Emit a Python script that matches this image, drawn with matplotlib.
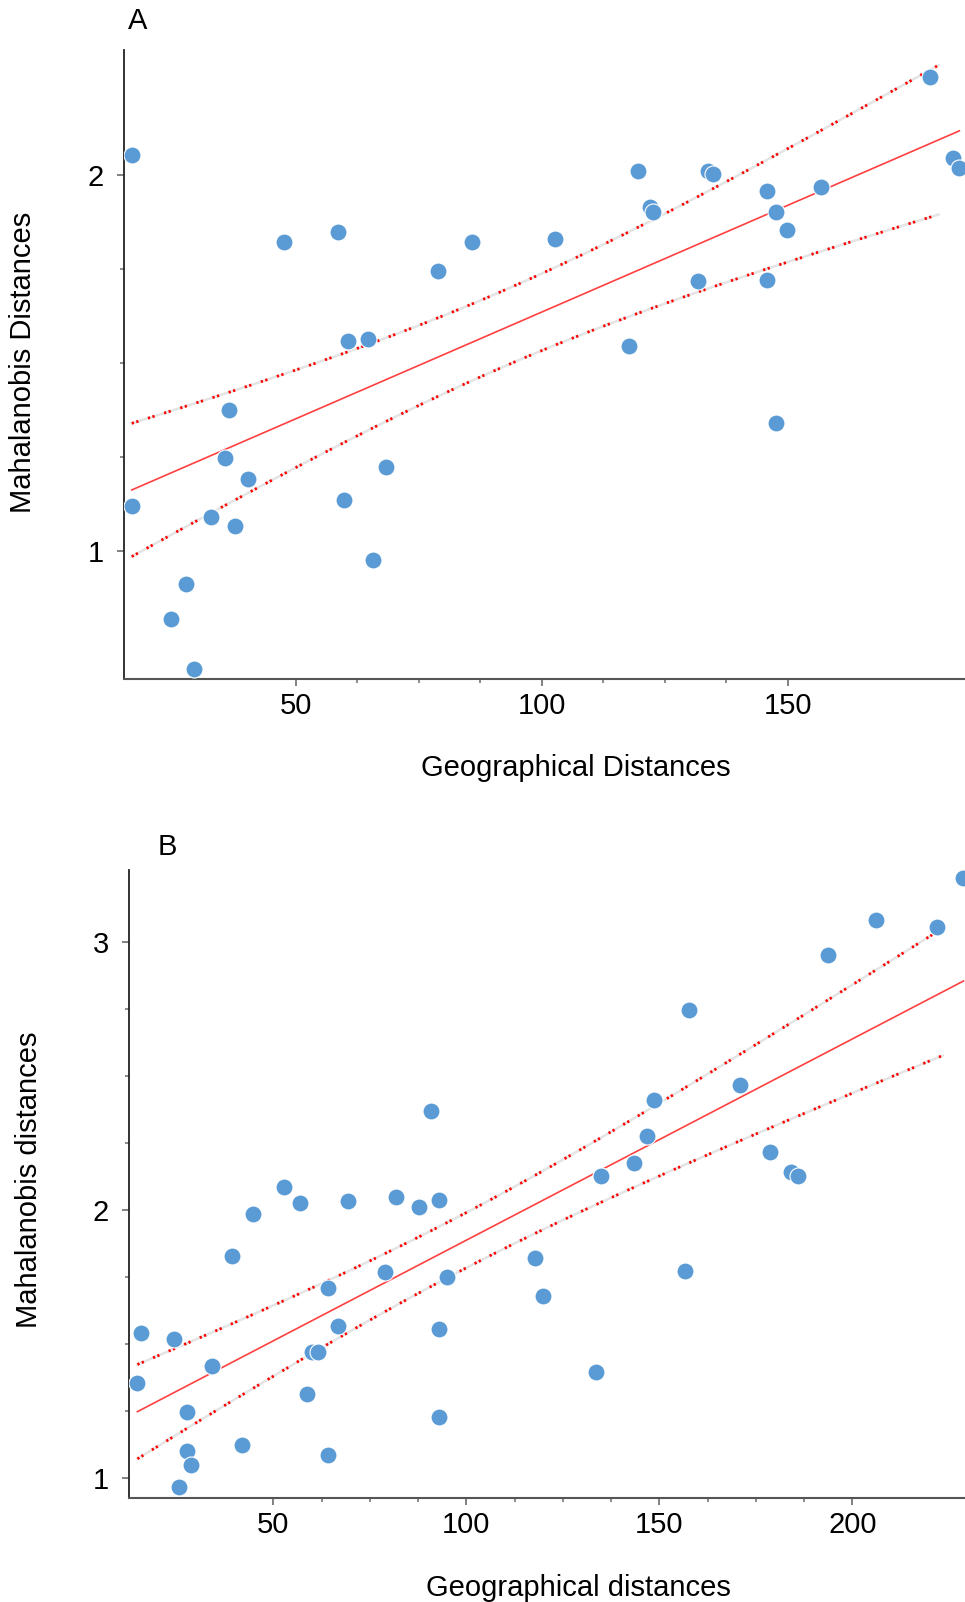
import numpy as np
import matplotlib
matplotlib.use('Agg')
import matplotlib.pyplot as plt
from matplotlib.ticker import FixedLocator

plt.rcParams['font.family'] = ['Liberation Sans', 'DejaVu Sans']

# panel A
geo_a = [16.7, 47.6, 58.6, 78.9, 85.8, 60.7, 64.7, 178.9, 183.5, 184.8,
         119.6, 133.7, 134.7, 145.7, 156.7, 121.9, 122.6, 147.6, 149.7, 102.6,
         131.7, 145.7, 117.7, 36.4, 35.7, 40.4, 68.4, 59.8, 16.7, 32.8,
         37.7, 65.6, 27.8, 24.7, 29.4, 147.6]
mah_a = [2.053, 1.823, 1.848, 1.745, 1.823, 1.558, 1.564, 2.26, 2.044, 2.019,
         2.011, 2.011, 2.002, 1.957, 1.967, 1.915, 1.901, 1.901, 1.854, 1.829,
         1.718, 1.721, 1.545, 1.375, 1.247, 1.191, 1.224, 1.136, 1.12, 1.091,
         1.067, 0.975, 0.913, 0.818, 0.685, 1.341]

# panel B
geo_b = [90.8, 52.7, 56.8, 69.4, 81.7, 87.7, 93.0, 44.8,
         228.8, 206.1, 221.9, 193.7, 157.7, 170.8, 148.5, 146.9, 143.5, 134.8,
         178.7, 184.1, 186.0,
         39.4, 79.0, 95.0, 64.1, 66.8, 93.0, 15.8, 24.4, 59.9, 61.7,
         34.0, 14.8, 58.7, 27.7, 93.0, 41.9, 27.7, 64.1, 28.6, 25.6,
         117.8, 119.9, 156.7, 133.6]
mah_b = [2.370, 2.085, 2.025, 2.035, 2.050, 2.012, 2.037, 1.985,
         3.241, 3.084, 3.058, 2.951, 2.747, 2.466, 2.410, 2.276, 2.174, 2.128,
         2.216, 2.142, 2.127,
         1.829, 1.770, 1.749, 1.709, 1.566, 1.555, 1.539, 1.518, 1.470, 1.470,
         1.417, 1.354, 1.314, 1.245, 1.227, 1.123, 1.099, 1.085, 1.049, 0.964,
         1.821, 1.678, 1.773, 1.396]

W, H = 965, 1602
fig = plt.figure(figsize=(W / 100, H / 100), dpi=100)

dot_color = '#5B9BD5'
FS = 21


def fit_band(x, y, t_crit):
    x = np.asarray(x)
    y = np.asarray(y)
    slope, icpt = np.polyfit(x, y, 1)
    xs = np.linspace(x.min(), x.max(), 200)
    yhat = icpt + slope * xs
    n = len(x)
    resid = y - (icpt + slope * x)
    s = np.sqrt((resid ** 2).sum() / (n - 2))
    sxx = ((x - x.mean()) ** 2).sum()
    hw = t_crit * s * np.sqrt(1 / n + (xs - x.mean()) ** 2 / sxx)
    return xs, yhat, yhat - hw, yhat + hw


def panel(rect, x, y, t_crit, xlim, ylim, xmaj, xmin, ymaj, ymin):
    ax = fig.add_axes(rect)
    xs, yhat, lo, hi = fit_band(x, y, t_crit)
    # trim the dotted bands a little short of the fitted line, as drawn
    keep = xs <= xs.min() + 0.975 * (xs.max() - xs.min())
    for band in (lo, hi):
        ax.plot(xs[keep], band[keep], color='#e4e4e4', lw=1.8, zorder=1)
        ax.plot(xs[keep], band[keep], color='red', lw=2.0,
                linestyle=(0, (0.8, 0.9, 0.8, 3.6)), zorder=2)
    ax.plot(xs, yhat, color='#ff4040', lw=1.2, zorder=2)
    ax.scatter(x, y, s=150, color=dot_color, edgecolors='white',
               linewidths=0.8, zorder=3)
    ax.set_xlim(*xlim)
    ax.set_ylim(*ylim)
    ax.xaxis.set_major_locator(FixedLocator(xmaj))
    ax.xaxis.set_minor_locator(FixedLocator(xmin))
    ax.yaxis.set_major_locator(FixedLocator(ymaj))
    ax.yaxis.set_minor_locator(FixedLocator(ymin))
    ax.set_xticklabels([str(v) for v in xmaj])
    ax.set_yticklabels([str(v) for v in ymaj])
    for side in ('top', 'right'):
        ax.spines[side].set_visible(False)
    ax.spines['left'].set_color('#222222')
    ax.spines['bottom'].set_color('#555555')
    ax.spines['left'].set_linewidth(1.3)
    ax.spines['bottom'].set_linewidth(1.5)
    ax.tick_params(axis='both', which='major', direction='out', length=5,
                   width=1.3, color='#777777', labelsize=FS)
    ax.tick_params(axis='both', which='minor', direction='out', length=3,
                   width=1.2, color='#777777')
    ax.tick_params(axis='x', which='major', pad=4.5)
    ax.tick_params(axis='y', which='major', pad=9.5)
    return ax


ax_a = panel([124 / W, 1 - 679 / H, (W - 124) / W, (679 - 50) / H],
             geo_a, mah_a, 2.032, (15.12, 185.95), (0.6596, 2.3324),
             [50, 100, 150], [62.5, 75, 87.5, 112.5, 125, 137.5],
             [1, 2], [1.25, 1.5, 1.75])

ax_b = panel([129.3 / W, 1 - 1497.7 / H, (W - 129.3) / W, (1497.7 - 870) / H],
             geo_b, mah_b, 2.017, (12.69, 229.2), (0.9253, 3.2704),
             [50, 100, 150, 200],
             [62.5, 75, 87.5, 112.5, 125, 137.5, 162.5, 175, 187.5],
             [1, 2, 3], [1.25, 1.5, 1.75, 2.25, 2.5, 2.75])

fig.text(138 / W, 1 - 21 / H, 'A', fontsize=FS, ha='center', va='center')
fig.text(167 / W, 1 - 847 / H, 'B', fontsize=FS, ha='center', va='center')

fig.text(23 / W, 1 - 362 / H, 'Mahalanobis Distances', fontsize=FS,
         rotation=90, ha='center', va='center')
fig.text(576 / W, 1 - 775.5 / H, 'Geographical Distances', fontsize=FS,
         ha='center', va='baseline')

fig.text(29.5 / W, 1 - 1180 / H, 'Mahalanobis distances', fontsize=FS,
         rotation=90, ha='center', va='center')
fig.text(578 / W, 1 - 1595.5 / H, 'Geographical distances', fontsize=FS,
         ha='center', va='baseline')

fig.savefig('out.png', dpi=100)
